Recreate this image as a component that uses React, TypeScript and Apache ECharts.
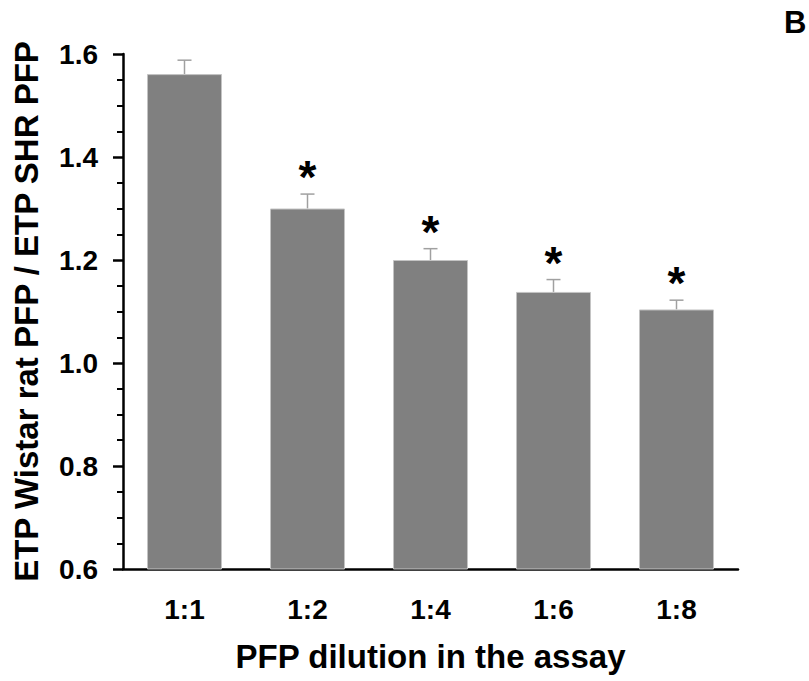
import React, { useEffect, useRef } from "react";
import * as echarts from "echarts";

const categories = ["1:1", "1:2", "1:4", "1:6", "1:8"];
const means = [1.561, 1.300, 1.200, 1.138, 1.104];
const errors = [0.027, 0.028, 0.022, 0.024, 0.018];
const significant = [false, true, true, true, true];
const yTicks = { min: 0.6, max: 1.6, interval: 0.2 };

const FONT = "'Liberation Sans', Arial, Helvetica, sans-serif";

export default function App() {
  const ref = useRef<HTMLDivElement>(null);
  useEffect(() => {
    if (!ref.current) return;
    const chart = echarts.init(ref.current, undefined, { renderer: "svg" });
    const errData = categories.map((c, i) => [i, means[i], errors[i], significant[i] ? 1 : 0]);
    chart.setOption({
      animation: false,
      backgroundColor: "#ffffff",
      grid: { left: 123, right: 71, top: 54, bottom: 112, containLabel: false },
      xAxis: {
        type: "category",
        data: categories,
        boundaryGap: true,
        axisLine: { lineStyle: { color: "#000", width: 2.5 } },
        axisTick: { alignWithLabel: true, length: 10, lineStyle: { color: "#000", width: 2.5 } },
        axisLabel: { color: "#000", fontFamily: FONT, fontWeight: "bold", fontSize: 28, margin: 26 },
        name: "PFP dilution in the assay",
        nameLocation: "middle",
        nameGap: 71,
        nameTextStyle: { color: "#000", fontFamily: FONT, fontWeight: "bold", fontSize: 33 },
      },
      yAxis: {
        type: "value",
        min: yTicks.min,
        max: yTicks.max,
        interval: yTicks.interval,
        axisLine: { show: true, lineStyle: { color: "#000", width: 2.5 } },
        axisTick: { show: true, length: 10, lineStyle: { color: "#000", width: 2.5 } },
        minorTick: { show: true, splitNumber: 4, length: 6, lineStyle: { color: "#000", width: 2 } },
        splitLine: { show: false },
        axisLabel: {
          color: "#000", fontFamily: FONT, fontWeight: "bold", fontSize: 28, margin: 25,
          formatter: (v: number) => v.toFixed(1),
        },
        name: "ETP Wistar rat PFP / ETP SHR PFP",
        nameLocation: "middle",
        nameGap: 80,
        nameTextStyle: { color: "#000", fontFamily: FONT, fontWeight: "bold", fontSize: 33 },
      },
      series: [
        {
          type: "bar",
          data: means,
          barCategoryGap: "39%",
          itemStyle: { color: "#808080", borderColor: "#c4c4c4", borderWidth: 1 },
          z: 2,
        },
        {
          type: "custom",
          data: errData,
          z: 1,
          renderItem: (params: any, api: any) => {
            const i = api.value(0);
            const m = api.value(1);
            const e = api.value(2);
            const sig = api.value(3);
            const base = api.coord([i, m]);
            const top = api.coord([i, m + e]);
            const hw = 7;
            const children: any[] = [
              { type: "line", shape: { x1: base[0], y1: base[1], x2: top[0], y2: top[1] }, style: { stroke: "#a0a0a0", lineWidth: 1.5 } },
              { type: "line", shape: { x1: top[0] - hw, y1: top[1], x2: top[0] + hw, y2: top[1] }, style: { stroke: "#a0a0a0", lineWidth: 1.5 } },
            ];
            if (sig) {
              children.push({
                type: "text",
                x: top[0],
                y: top[1] - 17,
                style: { text: "*", fill: "#000", font: `bold 46px ${FONT}`, textAlign: "center", textVerticalAlign: "middle" },
              });
            }
            return { type: "group", children };
          },
        },
      ],
      graphic: [
        { type: "text", left: 784, top: 7, style: { text: "B", fill: "#000", font: `bold 31px ${FONT}` } },
      ],
    });
    return () => chart.dispose();
  }, []);
  return <div ref={ref} style={{ width: 809, height: 681, position: "absolute", left: 0, top: 0 }} />;
}
